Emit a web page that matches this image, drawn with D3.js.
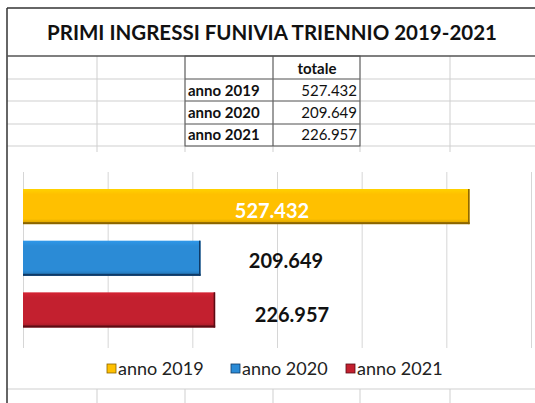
<!DOCTYPE html>
<html>
<head>
<meta charset="utf-8">
<script src="https://cdn.jsdelivr.net/npm/d3@7"></script>
<style>
  html, body { margin: 0; padding: 0; background: #fff; }
  svg { display: block; }
  text { font-family: Lato, "Open Sans", "Liberation Sans", sans-serif; }
</style>
</head>
<body>
<svg id="chart" width="535" height="403"></svg>
<script>
// ---------- data ----------
const title = "PRIMI INGRESSI FUNIVIA TRIENNIO 2019-2021";
const tableHeader = "totale";
const categories = ["anno 2019", "anno 2020", "anno 2021"];
const values = [527432, 209649, 226957];
const valueLabels = ["527.432", "209.649", "226.957"];
const xTicks = [0, 100000, 200000, 300000, 400000, 500000, 600000];
const colors = ["#FFC000", "#2B8BD6", "#C3202F"];
const edgeColors = ["#8a6400", "#0f3a66", "#5a0c14"];

// ---------- layout ----------
const W = 535, H = 403;
const svg = d3.select("#chart");
const gridColor = "#cfcfcf";
const frameX = 7, frameTop = 8;
const rowLines = [79, 101, 124, 146];
const colLines = [97, 185, 273, 360, 450];
const tableLeft = 185, tableMid = 273, tableRight = 360, tableTop = 56, tableBottom = 146;

svg.append("rect").attr("width", W).attr("height", H).attr("fill", "#fff");

// spreadsheet gridlines (table rows region)
const sheet = svg.append("g");
rowLines.forEach(y => sheet.append("line").attr("x1", frameX).attr("x2", W).attr("y1", y).attr("y2", y)
  .attr("stroke", gridColor).attr("stroke-width", 1));
colLines.forEach(x => sheet.append("line").attr("x1", x).attr("x2", x).attr("y1", tableTop).attr("y2", 152)
  .attr("stroke", gridColor).attr("stroke-width", 1));
// bottom sheet region under chart
sheet.append("line").attr("x1", frameX).attr("x2", W).attr("y1", 389).attr("y2", 389)
  .attr("stroke", gridColor).attr("stroke-width", 1);
colLines.forEach(x => sheet.append("line").attr("x1", x).attr("x2", x).attr("y1", 389).attr("y2", H)
  .attr("stroke", gridColor).attr("stroke-width", 1));

// frame
svg.append("line").attr("x1", frameX).attr("x2", W).attr("y1", frameTop).attr("y2", frameTop)
  .attr("stroke", "#333").attr("stroke-width", 1.5);
svg.append("line").attr("x1", frameX).attr("x2", frameX).attr("y1", frameTop).attr("y2", H)
  .attr("stroke", "#333").attr("stroke-width", 1.5);
svg.append("line").attr("x1", frameX).attr("x2", W).attr("y1", tableTop).attr("y2", tableTop)
  .attr("stroke", "#555").attr("stroke-width", 1.3);

// title
svg.append("text").attr("x", 272).attr("y", 40).attr("text-anchor", "middle")
  .attr("font-size", 20.5).attr("font-weight", 700).attr("fill", "#111").text(title);

// table
const tbl = svg.append("g");
const tRows = [79, 101, 124, 146];
tbl.append("rect").attr("x", tableLeft).attr("y", tableTop).attr("width", tableRight - tableLeft)
  .attr("height", tableBottom - tableTop).attr("fill", "none").attr("stroke", "#555").attr("stroke-width", 1);
tbl.append("line").attr("x1", tableMid).attr("x2", tableMid).attr("y1", tableTop).attr("y2", tableBottom)
  .attr("stroke", "#555");
tRows.slice(0, 3).forEach(y => tbl.append("line").attr("x1", tableLeft).attr("x2", tableRight)
  .attr("y1", y).attr("y2", y).attr("stroke", "#666"));
tbl.append("text").attr("x", 317).attr("y", 74).attr("text-anchor", "middle")
  .attr("font-size", 15).attr("font-weight", 700).attr("fill", "#111").text(tableHeader);
const rowBase = [96, 118, 140];
categories.forEach((c, i) => {
  tbl.append("text").attr("x", 188).attr("y", rowBase[i]).attr("font-size", 15).attr("font-weight", 700)
    .attr("fill", "#111").text(c);
  tbl.append("text").attr("x", 357).attr("y", rowBase[i]).attr("text-anchor", "end").attr("font-size", 15)
    .attr("fill", "#111").text(valueLabels[i]);
});

// ---------- chart ----------
const chartTop = 152, chartBottom = 388;
svg.append("rect").attr("x", frameX + 1).attr("y", chartTop).attr("width", W - frameX - 1)
  .attr("height", chartBottom - chartTop).attr("fill", "#fff");

const x = d3.scaleLinear().domain([0, 600000]).range([23, 531]);
const y = d3.scaleBand().domain(categories).range([189, 327.5]).paddingInner(0.32).paddingOuter(0);

// vertical gridlines via axis
const axis = d3.axisBottom(x).tickValues(xTicks).tickSize(-(348 - 172)).tickFormat("");
const gAxis = svg.append("g").attr("transform", "translate(0,348)").call(axis);
gAxis.select(".domain").remove();
gAxis.selectAll(".tick line").attr("stroke", "#d6d6d6").attr("stroke-width", 1);

// bars
const bars = svg.append("g");
const defs = svg.append("defs");
categories.forEach((c, i) => {
  const bx = x(0), bw = x(values[i]) - x(0), by = y(c), bh = y.bandwidth();
  const grad = defs.append("linearGradient").attr("id", "g" + i)
    .attr("x1", 0).attr("y1", 0).attr("x2", 0).attr("y2", 1);
  grad.append("stop").attr("offset", "0%").attr("stop-color", d3.color(colors[i]).brighter(0.25));
  grad.append("stop").attr("offset", "15%").attr("stop-color", colors[i]);
  grad.append("stop").attr("offset", "85%").attr("stop-color", colors[i]);
  grad.append("stop").attr("offset", "100%").attr("stop-color", d3.color(colors[i]).darker(0.6));
  bars.append("rect").attr("x", bx).attr("y", by).attr("width", bw).attr("height", bh)
    .attr("fill", "url(#g" + i + ")");
  // bevel edges
  bars.append("rect").attr("x", bx).attr("y", by + bh - 2).attr("width", bw).attr("height", 2)
    .attr("fill", edgeColors[i]);
  bars.append("rect").attr("x", bx + bw - 1.5).attr("y", by).attr("width", 1.5).attr("height", bh)
    .attr("fill", edgeColors[i]);
});

// data labels
const labelX = [272, 286, 292];
const labelDy = [11, 10, 12];
const labelFill = ["#fff", "#111", "#111"];
categories.forEach((c, i) => {
  svg.append("text").attr("x", labelX[i]).attr("y", y(c) + y.bandwidth() / 2 + labelDy[i])
    .attr("text-anchor", "middle").attr("font-size", 20).attr("font-weight", 700)
    .attr("fill", labelFill[i]).text(valueLabels[i]);
});

// legend
const legendItems = [{ mx: 107, tx: 118 }, { mx: 231, tx: 242 }, { mx: 346, tx: 357 }];
categories.forEach((c, i) => {
  const li = legendItems[i];
  svg.append("rect").attr("x", li.mx).attr("y", 364).attr("width", 9).attr("height", 9)
    .attr("fill", colors[i]).attr("stroke", edgeColors[i]).attr("stroke-width", 0.8);
  svg.append("text").attr("x", li.tx).attr("y", 375).attr("font-size", 18).attr("fill", "#222").text(c);
});
</script>
</body>
</html>
